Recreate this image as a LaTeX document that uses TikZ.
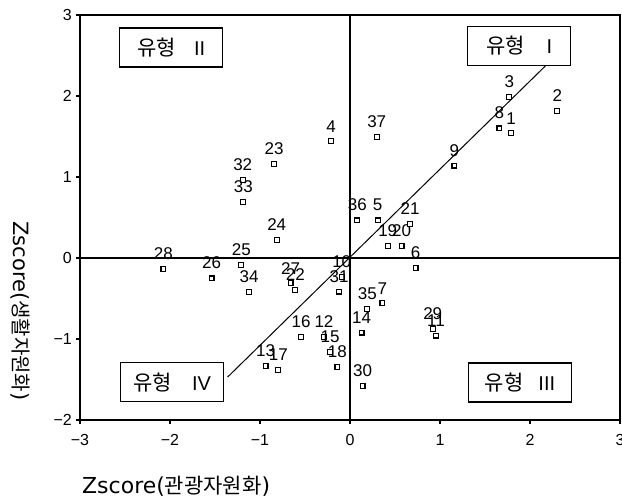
\documentclass[tikz,border=0pt]{standalone}
\usepackage{fontspec}
\setmainfont{Liberation Sans}
\newfontfamily\kr{Noto Sans CJK KR}
\newfontfamily\dv{DejaVu Sans}
\begin{document}
\begin{tikzpicture}[x=90pt,y=81pt,
  mk/.style={draw=black, fill=white, line width=1.2pt, minimum size=4.8pt, inner sep=0pt, rectangle},
  num/.style={font=\fontsize{17}{17}\selectfont, inner sep=0pt},
  typebox/.style={draw=black, line width=1.2pt, minimum width=103pt, minimum height=39pt, inner sep=0pt, font=\fontsize{20}{20}\selectfont},
  tickmark/.style={line width=2.4pt},
  ticklab/.style={font=\fontsize{16}{16}\selectfont, inner sep=0pt},
  frameline/.style={line width=1.3pt},
  axisline/.style={line width=2pt},
  zeroline/.style={line width=1.1pt},
  regline/.style={line width=1pt},
]
\useasboundingbox (-3.8889,-2.9877) rectangle (3.0222,3.1852);

% zero lines
\draw[zeroline] (-3,0) -- (3,0);
\draw[zeroline] (0,-2) -- (0,3);

% frame
\draw[frameline] (-3,3) -- (3,3) -- (3,-2);
\draw[axisline] (-3,3) -- (-3,-2) -- (3,-2);

% ticks and tick labels
\foreach \t/\s in {-3/−3,-2/−2,-1/−1,0/0,1/1,2/2,3/3} {
  \draw[tickmark] (\t,-2) -- ++(0,-4pt);
  \node[ticklab, anchor=north] (xt\t) at ([yshift=-14pt]\t,-2) {\s};
}
\foreach \t/\s in {-2/−2,-1/−1,0/0,1/1,2/2,3/3} {
  \draw[tickmark] (-3,\t) -- ++(-4pt,0);
  \node[ticklab, anchor=east] (yt\t) at ([xshift=-8pt]-3,\t) {\s};
}

% regression line
\coordinate (rt) at (2.17,2.37);
\coordinate (rb) at (-1.36,-1.47);
\draw[regline] (rb) -- (rt);

% type boxes
\node[typebox] (t1) at (1.880,2.619) {{\kr\fontsize{21}{21}\selectfont 유형}\hspace{22pt}I\hspace{16pt}};
\node[typebox] (t2) at (-1.985,2.599) {{\kr\fontsize{21}{21}\selectfont 유형}\hspace{18pt}II\hspace{6pt}};
\node[typebox] (t3) at (1.889,-1.537) {{\kr\fontsize{21}{21}\selectfont 유형}\hspace{15pt}III\hspace{4pt}};
\node[typebox] (t4) at (-1.976,-1.533) {{\kr\fontsize{21}{21}\selectfont 유형}\hspace{20pt}IV};

% points
\foreach \n/\x/\y in {
  1/1.789/1.540, 2/2.303/1.815, 3/1.770/1.991, 4/-0.211/1.441, 5/0.308/0.465,
  6/0.730/-0.127, 7/0.359/-0.559, 8/1.659/1.601, 9/1.159/1.140, 10/-0.092/-0.231,
  11/0.956/-0.959, 12/-0.289/-0.972, 13/-0.937/-1.333, 14/0.130/-0.922, 15/-0.222/-1.157,
  16/-0.544/-0.972, 17/-0.797/-1.383, 18/-0.141/-1.342, 19/0.419/0.148, 20/0.574/0.148,
  21/0.667/0.420, 22/-0.608/-0.395, 23/-0.844/1.160, 24/-0.814/0.222, 25/-1.208/-0.083,
  26/-1.537/-0.251, 27/-0.659/-0.312, 28/-2.074/-0.136, 29/0.919/-0.873, 30/0.141/-1.577,
  31/-0.122/-0.416, 32/-1.192/0.963, 33/-1.186/0.688, 34/-1.122/-0.420, 35/0.192/-0.633,
  36/0.081/0.465, 37/0.297/1.494} {
  \node[mk, label={[num,label distance=6pt]above:\n}] (p\n) at (\x,\y) {};
}

% axis titles
\node[anchor=base west, inner sep=0pt] (xtitle) at (-2.978,-2.913)
  {{\dv\fontsize{22}{22}\selectfont Zscore(}{\kr\fontsize{21}{21}\selectfont 관광자원화}{\dv\fontsize{22}{22}\selectfont )}};
\node[rotate=-90, inner sep=0pt] (ytitle) at (-3.667,-0.654)
  {{\dv\fontsize{21}{21}\selectfont Zscore(}{\kr\fontsize{20}{20}\selectfont 생활자원화}{\dv\fontsize{21}{21}\selectfont )}};
\end{tikzpicture}
\end{document}
